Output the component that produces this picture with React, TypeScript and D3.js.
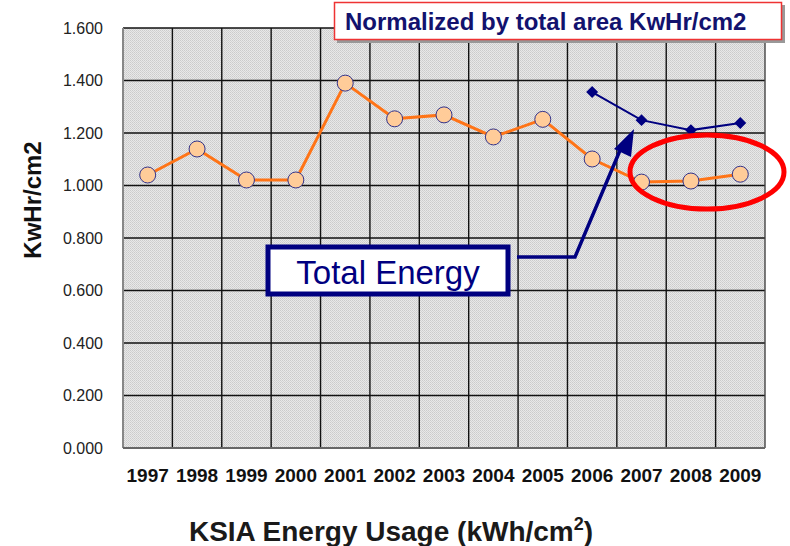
import { useRef, useEffect } from 'react';
import * as d3 from 'd3';

// data
const YEARS = ['1997', '1998', '1999', '2000', '2001', '2002', '2003', '2004', '2005', '2006', '2007', '2008', '2009'];
const NORMALIZED = [1.04, 1.139, 1.021, 1.021, 1.39, 1.254, 1.269, 1.185, 1.252, 1.101, 1.013, 1.017, 1.043];
const TOTAL_YEARS = ['2006', '2007', '2008', '2009'];
const TOTAL_ENERGY = [1.356, 1.249, 1.211, 1.238];
const Y_TICKS = [0, 0.2, 0.4, 0.6, 0.8, 1.0, 1.2, 1.4, 1.6];

const NAVY = '#000080';
const ORANGE = '#ff7417';
const FONT = 'Liberation Sans, Arial, sans-serif';

export default function App() {
  const ref = useRef<SVGSVGElement>(null);

  useEffect(() => {
    if (!ref.current) return;
    const width = 790;
    const height = 546;
    const left = 123, right = 765, top = 28, bottom = 448;

    const svg = d3.select(ref.current);
    svg.selectAll('*').remove();
    svg.attr('width', width).attr('height', height);

    const defs = svg.append('defs');
    const pat = defs.append('pattern')
      .attr('id', 'hatch')
      .attr('width', 2).attr('height', 2)
      .attr('patternUnits', 'userSpaceOnUse');
    pat.append('rect').attr('width', 2).attr('height', 2).attr('fill', '#e8e8e8');
    pat.append('rect').attr('width', 1).attr('height', 1).attr('fill', '#cbcbcb');
    pat.append('rect').attr('x', 1).attr('y', 1).attr('width', 1).attr('height', 1).attr('fill', '#d3d3d3');

    const x = d3.scaleBand<string>().domain(YEARS).range([left, right]);
    const y = d3.scaleLinear().domain([0, 1.6]).range([bottom, top]);
    const cx = (yr: string) => (x(yr) ?? 0) + x.bandwidth() / 2;

    // plot area
    svg.append('rect')
      .attr('x', left).attr('y', top)
      .attr('width', right - left).attr('height', bottom - top)
      .attr('fill', 'url(#hatch)');

    // grid
    const grid = svg.append('g').attr('stroke', '#111').attr('stroke-width', 1.4);
    grid.selectAll('line.h')
      .data(Y_TICKS.slice(1))
      .join('line')
      .attr('x1', left).attr('x2', right)
      .attr('y1', (d) => y(d)).attr('y2', (d) => y(d));
    grid.selectAll('line.v')
      .data(YEARS.slice(1))
      .join('line')
      .attr('class', 'v')
      .attr('x1', (d) => x(d) ?? 0).attr('x2', (d) => x(d) ?? 0)
      .attr('y1', top).attr('y2', bottom);
    svg.append('line')
      .attr('x1', right).attr('x2', right).attr('y1', top).attr('y2', bottom)
      .attr('stroke', '#444').attr('stroke-width', 1.4);
    svg.append('line')
      .attr('x1', left).attr('x2', left).attr('y1', top).attr('y2', bottom)
      .attr('stroke', '#888').attr('stroke-width', 2);
    svg.append('line')
      .attr('x1', left).attr('x2', right).attr('y1', bottom).attr('y2', bottom)
      .attr('stroke', '#666').attr('stroke-width', 2);

    // y tick labels
    svg.append('g')
      .selectAll('text')
      .data(Y_TICKS)
      .join('text')
      .attr('x', 103)
      .attr('y', (d) => y(d) + 5.5)
      .attr('text-anchor', 'end')
      .attr('font-family', FONT)
      .attr('font-size', 16)
      .attr('fill', '#222')
      .text((d) => d3.format('.3f')(d));

    // x tick labels
    svg.append('g')
      .selectAll('text')
      .data(YEARS)
      .join('text')
      .attr('x', (d) => cx(d))
      .attr('y', 482)
      .attr('text-anchor', 'middle')
      .attr('font-family', FONT)
      .attr('font-weight', 'bold')
      .attr('font-size', 19)
      .attr('fill', '#111')
      .text((d) => d);

    // y axis title
    svg.append('text')
      .attr('transform', 'translate(41,200) rotate(-90)')
      .attr('text-anchor', 'middle')
      .attr('font-family', FONT)
      .attr('font-weight', 900)
      .attr('font-size', 24)
      .attr('fill', '#111')
      .text('KwHr/cm2');

    // bottom title
    const bt = svg.append('text')
      .attr('x', 391).attr('y', 541)
      .attr('text-anchor', 'middle')
      .attr('font-family', FONT)
      .attr('font-weight', 'bold')
      .attr('font-size', 28)
      .attr('fill', '#1a1a1a');
    bt.append('tspan').text('KSIA Energy Usage (kWh/cm');
    bt.append('tspan').attr('font-size', 18).attr('dy', -11).text('2');
    bt.append('tspan').attr('dy', 11).text(')');

    // normalized series
    const line = d3.line<number>()
      .x((_d, i) => cx(YEARS[i]))
      .y((d) => y(d));
    svg.append('path')
      .attr('d', line(NORMALIZED))
      .attr('fill', 'none')
      .attr('stroke', ORANGE)
      .attr('stroke-width', 3);
    svg.append('g')
      .selectAll('circle')
      .data(NORMALIZED)
      .join('circle')
      .attr('cx', (_d, i) => cx(YEARS[i]))
      .attr('cy', (d) => y(d))
      .attr('r', 8)
      .attr('fill', '#ffcc99')
      .attr('stroke', '#33338a')
      .attr('stroke-width', 1);

    // total energy series
    const line2 = d3.line<number>()
      .x((_d, i) => cx(TOTAL_YEARS[i]))
      .y((d) => y(d));
    svg.append('path')
      .attr('d', line2(TOTAL_ENERGY))
      .attr('fill', 'none')
      .attr('stroke', NAVY)
      .attr('stroke-width', 2);
    svg.append('g')
      .selectAll('path')
      .data(TOTAL_ENERGY)
      .join('path')
      .attr('d', d3.symbol().type(d3.symbolDiamond2).size(90)())
      .attr('transform', (d, i) => `translate(${cx(TOTAL_YEARS[i])},${y(d)})`)
      .attr('fill', NAVY);

    // red ellipse
    svg.append('ellipse')
      .attr('cx', 707).attr('cy', 172)
      .attr('rx', 77).attr('ry', 37)
      .attr('fill', 'none')
      .attr('stroke', '#ff0000')
      .attr('stroke-width', 5);

    // arrow
    svg.append('path')
      .attr('d', 'M517,257 L575,257 L621,148')
      .attr('fill', 'none')
      .attr('stroke', NAVY)
      .attr('stroke-width', 3.5);
    svg.append('path')
      .attr('d', 'M634,129 L631,157 L614,149 Z')
      .attr('fill', NAVY);

    // Total Energy box
    svg.append('rect')
      .attr('x', 268).attr('y', 247)
      .attr('width', 240).attr('height', 47)
      .attr('fill', '#fff')
      .attr('stroke', NAVY)
      .attr('stroke-width', 5);
    svg.append('text')
      .attr('x', 388).attr('y', 284)
      .attr('text-anchor', 'middle')
      .attr('font-family', FONT)
      .attr('font-size', 33)
      .attr('fill', NAVY)
      .text('Total Energy');

    // title box
    svg.append('rect')
      .attr('x', 337).attr('y', 5)
      .attr('width', 448).attr('height', 38)
      .attr('fill', '#999');
    svg.append('rect')
      .attr('x', 334.5).attr('y', 2.5)
      .attr('width', 447).attr('height', 37)
      .attr('fill', '#fff')
      .attr('stroke', '#ee3333')
      .attr('stroke-width', 1.5);
    svg.append('text')
      .attr('x', 345).attr('y', 30)
      .attr('font-family', FONT)
      .attr('font-weight', 'bold')
      .attr('font-size', 24)
      .attr('fill', '#12126e')
      .text('Normalized by total area KwHr/cm2');
  }, []);

  return (
    <svg ref={ref} style={{ position: 'absolute', left: 0, top: 0, background: '#fff' }}></svg>
  );
}
